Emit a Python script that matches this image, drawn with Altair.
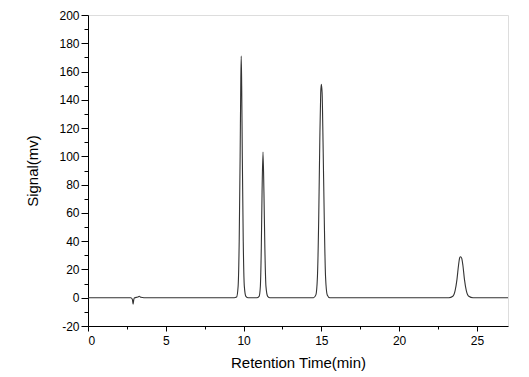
import altair as alt
import pandas as pd

# Chromatogram trace (minutes, mV)
time_min = [0.0, 2.75, 2.85, 2.9, 2.95, 3.0, 3.2, 3.3, 3.4, 3.6,
            9.4, 9.55, 9.65, 9.72, 9.78, 9.82, 9.85, 9.88, 9.92, 9.98, 10.05, 10.15, 10.3,
            10.85, 11.0, 11.08, 11.14, 11.19, 11.25, 11.31, 11.37, 11.44, 11.55, 11.7,
            14.5, 14.65, 14.75, 14.83, 14.9, 14.96, 15.0, 15.05, 15.11, 15.19, 15.27, 15.38, 15.55,
            23.2, 23.45, 23.6, 23.72, 23.82, 23.9, 23.95, 24.02, 24.1, 24.2, 24.32, 24.48, 24.75,
            27.0]
signal_mv = [0.0, 0.0, -1.0, -4.5, -1.0, 0.0, 0.5, 1.0, 0.3, 0.0,
             0.0, 0.5, 8.0, 40.0, 100.0, 150.0, 171.0, 150.0, 100.0, 40.0, 8.0, 1.0, 0.0,
             0.0, 1.0, 8.0, 35.0, 75.0, 103.0, 75.0, 35.0, 8.0, 1.0, 0.0,
             0.0, 2.0, 15.0, 55.0, 110.0, 145.0, 151.0, 145.0, 110.0, 55.0, 15.0, 2.0, 0.0,
             0.0, 1.0, 5.0, 13.0, 23.0, 28.5, 29.0, 28.0, 23.0, 13.0, 5.0, 1.0, 0.0,
             0.0]

x_major = [0, 5, 10, 15, 20, 25]
x_minor = [2.5, 7.5, 12.5, 17.5, 22.5]
y_major = [-20, 0, 20, 40, 60, 80, 100, 120, 140, 160, 180, 200]
y_minor = [-10, 10, 30, 50, 70, 90, 110, 130, 150, 170, 190]

df = pd.DataFrame({"t": time_min, "s": signal_mv})

FONT = "Liberation Sans"
xscale = alt.Scale(domain=[0, 27], nice=False, zero=False)
yscale = alt.Scale(domain=[-20, 200], nice=False, zero=False)

main = alt.Chart(df).mark_line(color="#333333", strokeWidth=1.1, interpolate="monotone").encode(
    x=alt.X("t:Q", scale=xscale,
            axis=alt.Axis(values=x_major, title="Retention Time(min)", orient="bottom",
                          tickSize=5, labelPadding=4, grid=False, domainColor="black",
                          tickColor="black", labelFont=FONT, labelFontSize=12,
                          labelColor="black", titleFont=FONT, titleFontSize=15,
                          titleFontWeight="normal", titleColor="black", titlePadding=9,
                          labelExpr="'' + datum.value")),
    y=alt.Y("s:Q", scale=yscale,
            axis=alt.Axis(values=y_major, title="Signal(mv)", orient="left",
                          tickSize=7, labelPadding=2, grid=False, domainColor="black",
                          tickColor="black", labelFont=FONT, labelFontSize=12,
                          labelColor="black", titleFont=FONT, titleFontSize=15,
                          titleFontWeight="normal", titleColor="black", titlePadding=18,
                          labelExpr="'' + datum.value")),
    order="t:Q",
)

minor = alt.Chart(df).mark_line(opacity=0).encode(
    x=alt.X("t:Q", scale=xscale,
            axis=alt.Axis(values=x_minor, title=None, orient="bottom", labels=False,
                          tickSize=3, grid=False, domain=False, tickColor="black")),
    y=alt.Y("s:Q", scale=yscale,
            axis=alt.Axis(values=y_minor, title=None, orient="left", labels=False,
                          tickSize=4, grid=False, domain=False, tickColor="black")),
)

chart = alt.layer(main, minor).resolve_axis(x="independent", y="independent").properties(
    width=420, height=311,
    autosize=alt.AutoSizeParams(type="none"),
    padding={"left": 80, "top": 7, "right": 10, "bottom": 45},
).configure_view(stroke=None).configure(background="white")

chart.save("out.html", embed_options={"renderer": "svg", "actions": False})
